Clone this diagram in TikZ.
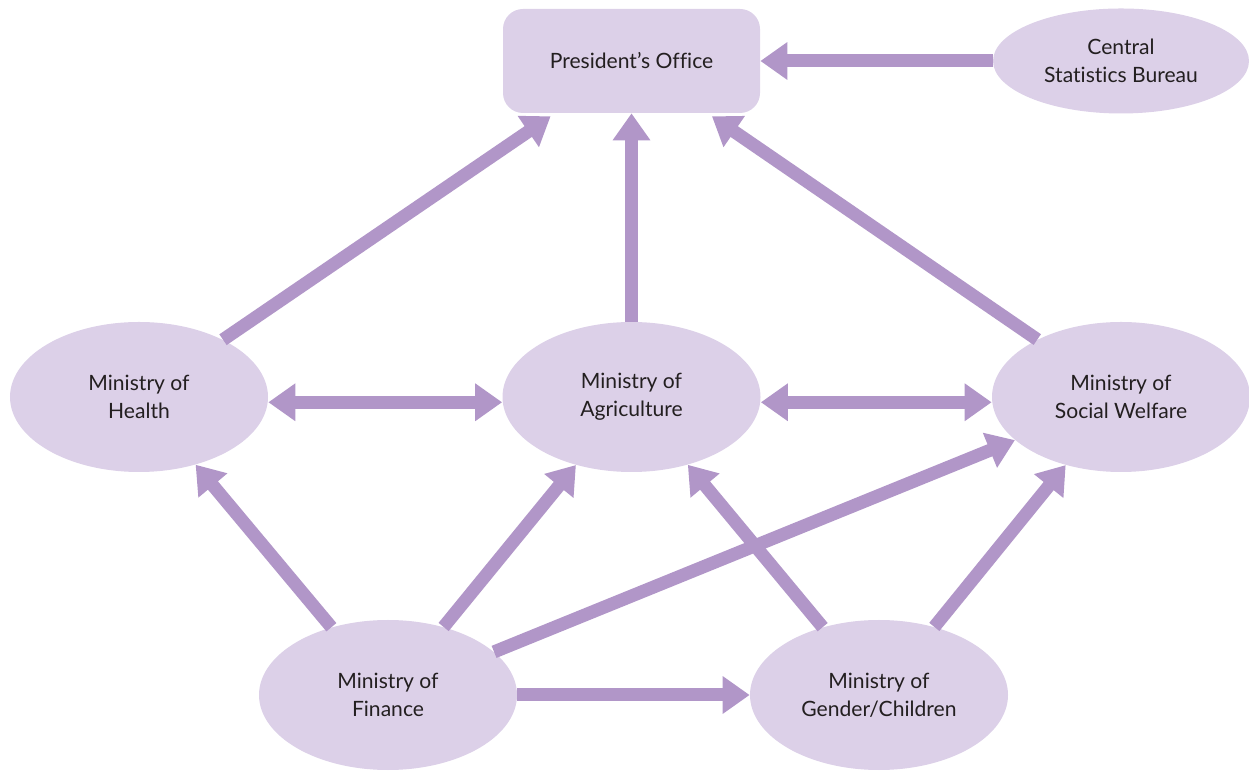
\documentclass[tikz,border=0pt]{standalone}
\usepackage{fontspec}
\setmainfont{Lato}[Ligatures={NoCommon}]
\usepackage{tikz}
\usetikzlibrary{arrows.meta, shapes.geometric}
\definecolor{lilac}{HTML}{DCD0E8}
\definecolor{flowpurple}{HTML}{B196C8}
\definecolor{inkgray}{HTML}{231F20}
\tikzset{>=latex}
\tikzset{ministry/.style = {shape=ellipse, fill=lilac, text=inkgray, align=center, inner sep=0pt,
    minimum width=5.16cm, minimum height=3cm, font=\fontsize{12}{16}\selectfont}}
\tikzset{office/.style = {shape=rectangle, rounded corners=0.4cm, fill=lilac, text=inkgray, align=center,
    minimum width=5.14cm, minimum height=2.08cm, font=\fontsize{12}{16}\selectfont}}
\tikzset{flow/.style = {draw=flowpurple, line width=0.26cm, -{Triangle[width=0.72cm, length=0.54cm]}}}
\tikzset{twoway/.style = {flow, {Triangle[width=0.72cm, length=0.54cm]}-{Triangle[width=0.72cm, length=0.54cm]}}}

\begin{document}
\begin{tikzpicture}
                    \useasboundingbox (0,0) rectangle (24.98,15.42);

                    \coordinate (p) at (12.63,14.2);
                    \coordinate (c) at (22.42,14.2);
                    \coordinate (h) at (2.78,7.48);
                    \coordinate (a) at (12.63,7.48);
                    \coordinate (w) at (22.42,7.48);
                    \coordinate (f) at (7.76,1.52);
                    \coordinate (g) at (17.58,1.52);

                    \node[office] (office) at (p) {President's Office};
                    \node[ministry, minimum height=2.1cm, minimum width=5.12cm] (bureau) at (c) {Central\\Statistics Bureau};
                    \node[ministry] (health) at (h) {Ministry of\\Health};
                    \node[ministry] (agri) at (a) {Ministry of\\Agriculture};
                    \node[ministry] (welfare) at (w) {Ministry of\\Social Welfare};
                    \node[ministry] (finance) at (f) {Ministry of\\Finance};
                    \node[ministry] (gender) at (g) {Ministry of\\Gender/Children};

                    \draw[flow] (bureau) -- (office);
                    \draw[flow, shorten >=3pt] (health) -- (office);
                    \draw[flow] (agri) -- (office);
                    \draw[flow, shorten >=3pt] (welfare) -- (office);
                    \draw[twoway] ([yshift=-3pt]health.east) -- ([yshift=-3pt]agri.west);
                    \draw[twoway] ([yshift=-3pt]agri.east) -- ([yshift=-3pt]welfare.west);
                    \foreach \m in {health, agri, welfare, gender} {
                      \draw[flow] (finance) -- (\m);
                    }
                    \foreach \m in {agri, welfare} {
                      \draw[flow] (gender) -- (\m);
                    }
                  \end{tikzpicture}
\end{document}
